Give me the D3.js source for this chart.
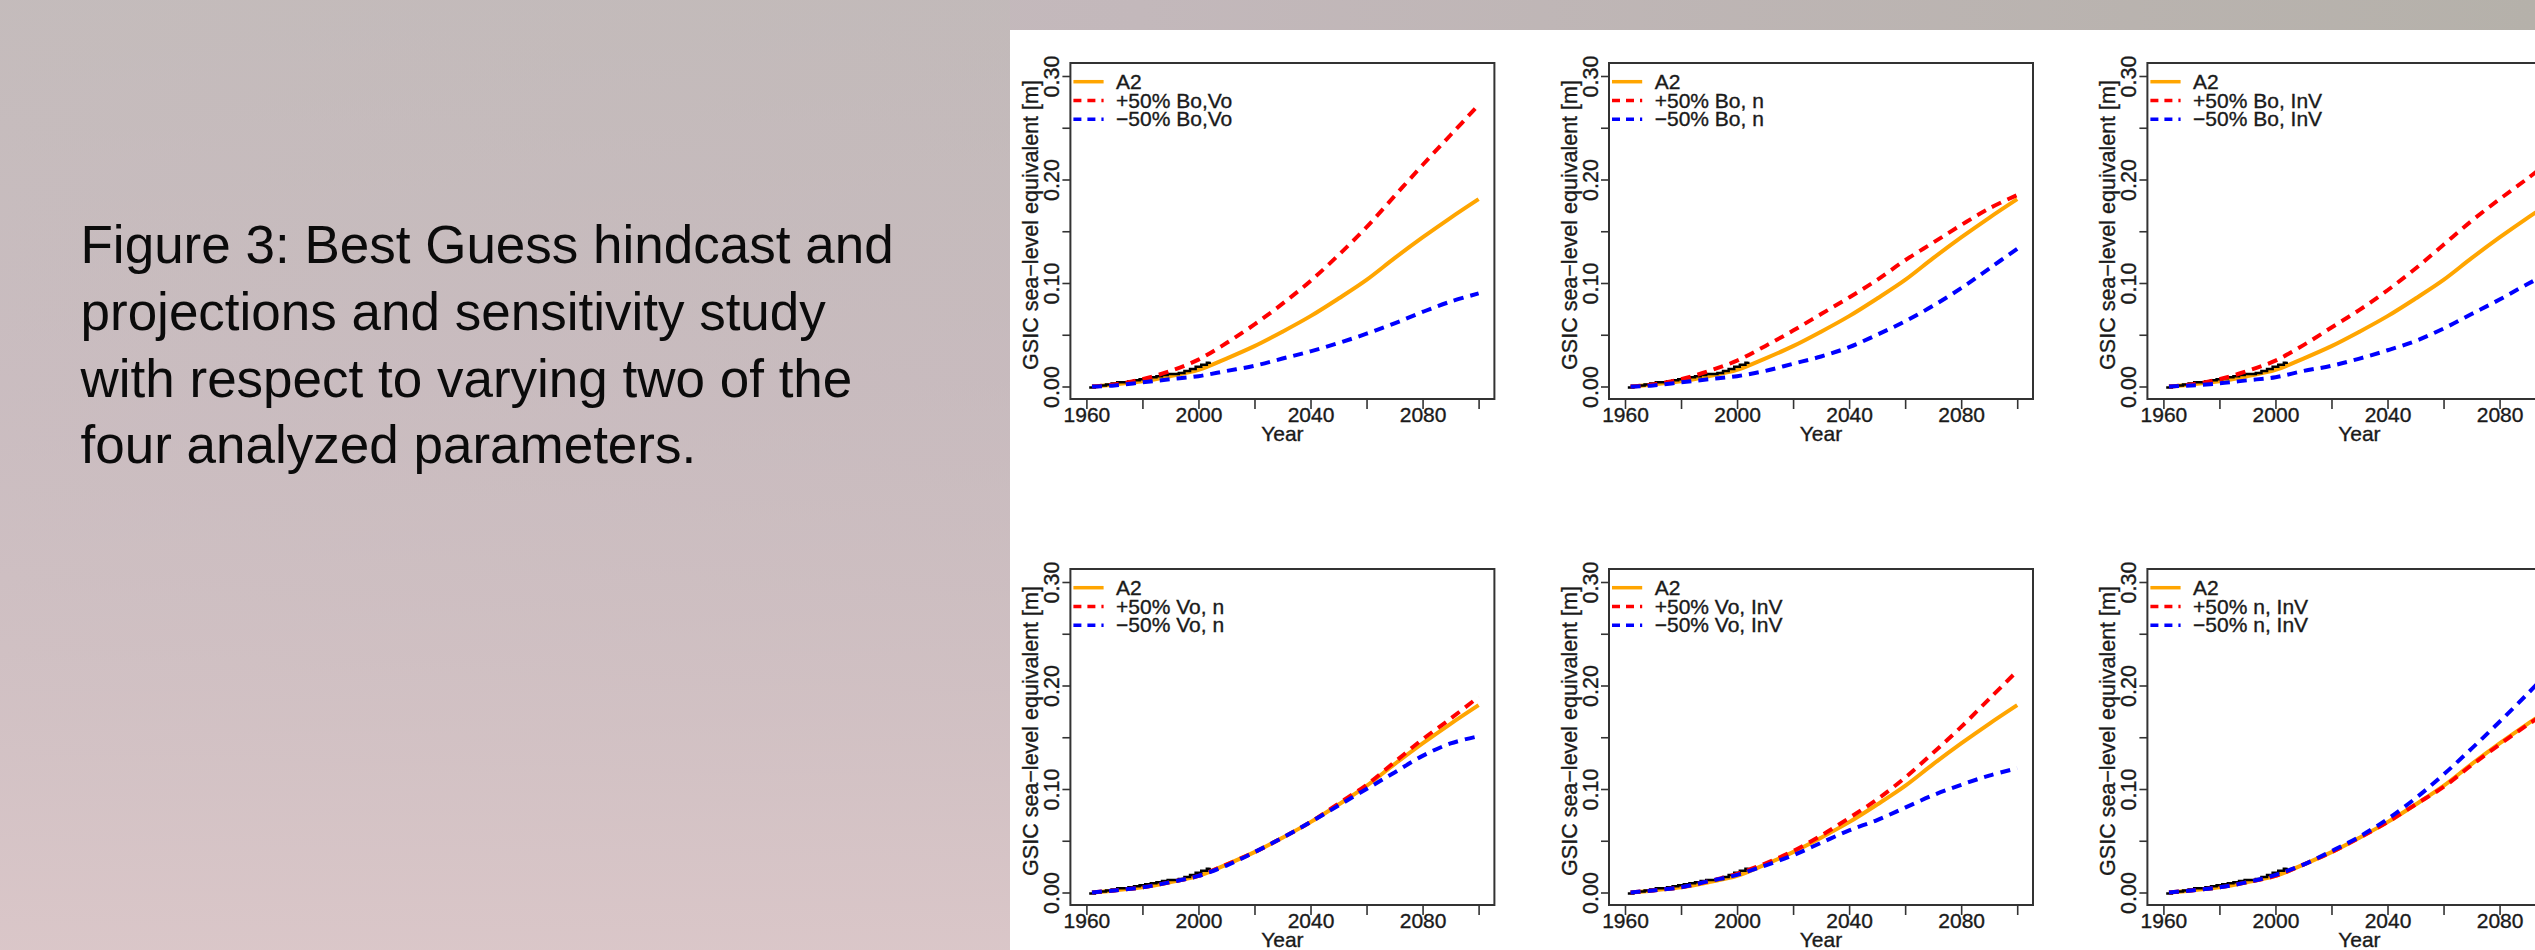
<!DOCTYPE html>
<html>
<head>
<meta charset="utf-8">
<script src="https://cdn.jsdelivr.net/npm/d3@7"></script>
<style>
  body { margin: 0; overflow: hidden; }
  text { font-family: Arial, "Liberation Sans", sans-serif; }
</style>
</head>
<body>
<svg width="2535" height="950"></svg>
<script>
var svg = d3.select("svg");

// ---- data ----
var captionLines = [
    "Figure 3: Best Guess hindcast and",
    "projections and sensitivity study",
    "with respect to varying two of the",
    "four analyzed parameters."
];

var years = [1962, 1970, 1980, 1990, 2000, 2010, 2020, 2030, 2040, 2050, 2060, 2070, 2080, 2090, 2100];
var a2 = [0.000, 0.002, 0.005, 0.010, 0.016, 0.027, 0.039, 0.053, 0.068, 0.085, 0.103, 0.124, 0.144, 0.163, 0.181];

// observed hindcast (black, stepped)
var obsYears = [1961, 1963, 1965, 1967, 1969, 1971, 1973, 1975, 1977, 1979, 1981, 1983, 1985, 1987, 1989, 1991, 1993, 1995, 1997, 1999, 2001, 2003, 2004];
var obsValues = [-0.001, 0.000, 0.001, 0.002, 0.003, 0.004, 0.004, 0.005, 0.006, 0.007, 0.008, 0.009, 0.010, 0.011, 0.012, 0.012, 0.013, 0.015, 0.017, 0.019, 0.021, 0.023, 0.024];

var panelParams = ["Bo,Vo", "Bo, n", "Bo, InV", "Vo, n", "Vo, InV", "n, InV"];

var plus50 = [
    [0, 0.002, 0.007, 0.015, 0.026, 0.042, 0.060, 0.080, 0.102, 0.127, 0.154, 0.184, 0.214, 0.243, 0.272],
    [0, 0.002, 0.007, 0.015, 0.025, 0.039, 0.054, 0.070, 0.086, 0.103, 0.122, 0.139, 0.156, 0.172, 0.185],
    [0, 0.002, 0.007, 0.015, 0.025, 0.040, 0.057, 0.074, 0.093, 0.114, 0.137, 0.160, 0.181, 0.201, 0.222],
    [0, 0.002, 0.005, 0.010, 0.016, 0.027, 0.039, 0.053, 0.068, 0.086, 0.104, 0.126, 0.148, 0.168, 0.189],
    [0, 0.002, 0.005, 0.011, 0.018, 0.028, 0.040, 0.055, 0.072, 0.090, 0.111, 0.135, 0.160, 0.187, 0.214],
    [0, 0.002, 0.005, 0.010, 0.016, 0.027, 0.039, 0.053, 0.068, 0.085, 0.102, 0.123, 0.143, 0.162, 0.180]
];

var minus50 = [
    [0, 0.001, 0.004, 0.007, 0.010, 0.015, 0.020, 0.027, 0.034, 0.042, 0.051, 0.061, 0.072, 0.082, 0.090],
    [0, 0.001, 0.004, 0.007, 0.010, 0.015, 0.022, 0.029, 0.038, 0.050, 0.063, 0.078, 0.095, 0.114, 0.133],
    [0, 0.001, 0.003, 0.006, 0.009, 0.015, 0.020, 0.027, 0.035, 0.044, 0.056, 0.070, 0.084, 0.099, 0.113],
    [0, 0.002, 0.005, 0.010, 0.016, 0.026, 0.039, 0.053, 0.068, 0.084, 0.100, 0.116, 0.132, 0.144, 0.151],
    [0, 0.002, 0.005, 0.011, 0.017, 0.026, 0.036, 0.048, 0.060, 0.070, 0.082, 0.094, 0.104, 0.113, 0.120],
    [0, 0.002, 0.005, 0.010, 0.017, 0.027, 0.040, 0.054, 0.071, 0.091, 0.114, 0.139, 0.165, 0.192, 0.220]
];

var yTicks = [0, 0.05, 0.10, 0.15, 0.20, 0.25, 0.30];
var yLabels = [0, 0.10, 0.20, 0.30];
var xTicks = [1960, 1980, 2000, 2020, 2040, 2060, 2080, 2100];
var xLabels = [1960, 2000, 2040, 2080];

// ---- background ----
var defs = svg.append("defs");
var bgH = defs.append("linearGradient").attr("id", "bgH")
    .attr("x1", 0).attr("y1", 0).attr("x2", 1).attr("y2", 0);
bgH.append("stop").attr("offset", "0%").attr("stop-color", "#c8bcc0");
bgH.append("stop").attr("offset", "45%").attr("stop-color", "#c3b8bb");
bgH.append("stop").attr("offset", "100%").attr("stop-color", "#b5b1aa");

var bgV = defs.append("linearGradient").attr("id", "bgV")
    .attr("x1", 0).attr("y1", 0).attr("x2", 0).attr("y2", 1);
bgV.append("stop").attr("offset", "0%").attr("stop-color", "#c0bbb7").attr("stop-opacity", 0.5);
bgV.append("stop").attr("offset", "40%").attr("stop-color", "#ccbdc0").attr("stop-opacity", 0.5);
bgV.append("stop").attr("offset", "100%").attr("stop-color", "#dbc7c9").attr("stop-opacity", 0.95);

svg.append("rect").attr("width", 2535).attr("height", 950).attr("fill", "url(#bgH)");
svg.append("rect").attr("width", 1010).attr("height", 950).attr("fill", "url(#bgV)");

// caption
svg.append("g").selectAll("text")
    .data(captionLines)
    .enter().append("text")
    .attr("x", 80.5)
    .attr("y", function (d, i) { return 263 + i * 66.8; })
    .style("font-size", "53px")
    .attr("fill", "#0b0b0b")
    .text(function (d) { return d; });

// white figure area
svg.append("rect")
    .attr("x", 1010).attr("y", 30)
    .attr("width", 1525).attr("height", 920)
    .attr("fill", "#ffffff");

// ---- panels ----
var colX = [1070.4, 1609, 2147.4];
var rowY = [63, 569];
var boxW = 424, boxH = 336;
var ink = "#1a1a1a";

var x = d3.scaleLinear().domain([1960, 2100]).range([16, 408.2]);
var y = d3.scaleLinear().domain([0, 0.30]).range([323.5, 13]);

var line = d3.line()
    .x(function (d) { return x(d[0]); })
    .y(function (d) { return y(d[1]); })
    .curve(d3.curveCatmullRom.alpha(0.5));

var stepLine = d3.line()
    .x(function (d) { return x(d[0]); })
    .y(function (d) { return y(d[1]); })
    .curve(d3.curveStepAfter);

function zip(a, b) {
    return a.map(function (v, i) { return [v, b[i]]; });
}

function inkText(sel, size) {
    sel.attr("fill", ink)
        .attr("stroke", ink).attr("stroke-width", 0.35)
        .style("font-size", size);
}

panelParams.forEach(function (param, k) {
    var g = svg.append("g")
        .attr("transform", "translate(" + colX[k % 3] + "," + rowY[Math.floor(k / 3)] + ")");

    // series
    g.append("path")
        .attr("d", line(zip(years, a2)))
        .attr("fill", "none").attr("stroke", "#ffa500").attr("stroke-width", 4);

    g.append("path")
        .attr("d", stepLine(zip(obsYears, obsValues)))
        .attr("fill", "none").attr("stroke", "#000").attr("stroke-width", 2.5);

    g.append("path")
        .attr("d", line(zip(years, plus50[k])))
        .attr("fill", "none").attr("stroke", "#ff0000").attr("stroke-width", 4)
        .attr("stroke-dasharray", "10,7");

    g.append("path")
        .attr("d", line(zip(years, minus50[k])))
        .attr("fill", "none").attr("stroke", "#0000ff").attr("stroke-width", 4)
        .attr("stroke-dasharray", "10,7");

    // box
    g.append("rect")
        .attr("width", boxW).attr("height", boxH)
        .attr("fill", "none").attr("stroke", "#333").attr("stroke-width", 2);

    // y axis
    var yAxis = g.append("g")
        .call(d3.axisLeft(y).tickValues(yTicks).tickSize(8)
            .tickFormat(function (d) {
                return yLabels.some(function (v) { return Math.abs(v - d) < 1e-9; }) ? d3.format(".2f")(d) : "";
            }));
    yAxis.select(".domain").remove();
    yAxis.selectAll("line").attr("stroke", "#333").attr("stroke-width", 1.6);
    yAxis.selectAll("text")
        .attr("x", null).attr("dy", null)
        .attr("transform", "translate(-11.5,0) rotate(-90)")
        .attr("text-anchor", "middle")
        .call(inkText, "21.5px");

    // x axis
    var xAxis = g.append("g")
        .attr("transform", "translate(0," + boxH + ")")
        .call(d3.axisBottom(x).tickValues(xTicks).tickSize(10)
            .tickFormat(function (d) { return xLabels.indexOf(d) >= 0 ? d : ""; }));
    xAxis.select(".domain").remove();
    xAxis.selectAll("line").attr("stroke", "#333").attr("stroke-width", 1.6);
    xAxis.selectAll("text")
        .attr("y", 22.7).attr("dy", null)
        .call(inkText, "21px");

    // axis titles
    g.append("text")
        .attr("transform", "translate(" + (-32) + "," + (boxH / 2 - 6) + ") rotate(-90)")
        .attr("text-anchor", "middle")
        .call(inkText, "21.5px")
        .text("GSIC sea\u2212level equivalent [m]");

    g.append("text")
        .attr("x", boxW / 2).attr("y", boxH + 42)
        .attr("text-anchor", "middle")
        .call(inkText, "21px")
        .text("Year");

    // legend
    var legend = [
        {label: "A2", color: "#ffa500", dash: null},
        {label: "+50% " + param, color: "#ff0000", dash: "8,6"},
        {label: "\u221250% " + param, color: "#0000ff", dash: "8,6"}
    ];
    var lg = g.append("g").selectAll("g")
        .data(legend)
        .enter().append("g")
        .attr("transform", function (d, i) { return "translate(0," + (18.7 + i * 18.8) + ")"; });
    lg.append("line")
        .attr("x1", 3).attr("x2", 33.2)
        .attr("stroke", function (d) { return d.color; })
        .attr("stroke-width", 3.5)
        .attr("stroke-dasharray", function (d) { return d.dash; });
    lg.append("text")
        .attr("x", 45.7).attr("y", 7)
        .call(inkText, "21px")
        .text(function (d) { return d.label; });
});
</script>
</body>
</html>
